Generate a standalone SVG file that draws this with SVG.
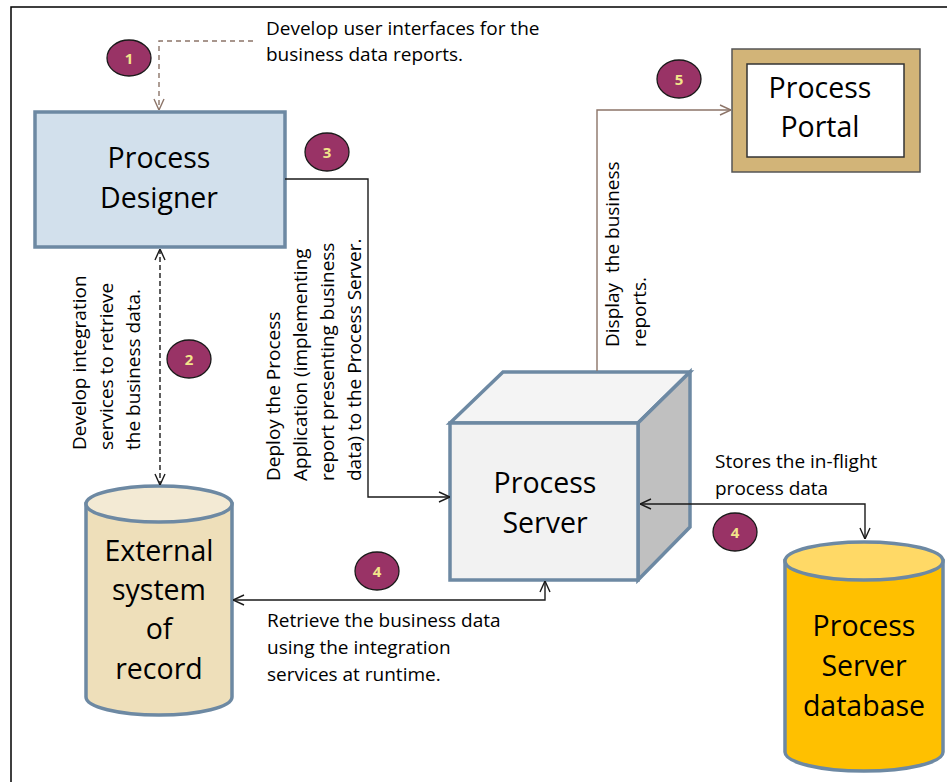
<svg xmlns="http://www.w3.org/2000/svg" width="947" height="782" viewBox="0 0 947 782">
<style>
.lbl{font-family:"Open Sans","Liberation Sans",sans-serif;font-size:19px;fill:#000}
.big{font-family:"Open Sans","Liberation Sans",sans-serif;font-size:28.5px;fill:#000;text-anchor:middle}
.badge ellipse{fill:#993366;stroke:#1a1a1a;stroke-width:1.3}
.badge text{font-family:"Open Sans","Liberation Sans",sans-serif;font-size:15px;font-weight:bold;fill:#f2e58a;text-anchor:middle}
.blue{stroke:#6d89a3;stroke-width:3.5}
.conn{fill:none;stroke:#1a1a1a;stroke-width:1.4}
.brown{fill:none;stroke:#8c7468;stroke-width:1.4}
</style>
<defs>
<marker id="ab" viewBox="0 0 12 12" refX="12" refY="6" markerWidth="12" markerHeight="12" markerUnits="userSpaceOnUse" orient="auto-start-reverse">
<path d="M1,1 L12,6 L1,11" fill="none" stroke="#1a1a1a" stroke-width="1.4"/>
</marker>
<marker id="abr" viewBox="0 0 12 12" refX="12" refY="6" markerWidth="12" markerHeight="12" markerUnits="userSpaceOnUse" orient="auto-start-reverse">
<path d="M1,1 L12,6 L1,11" fill="none" stroke="#8c7468" stroke-width="1.4"/>
</marker>
</defs>
<rect x="0" y="0" width="947" height="782" fill="#fff"/>
<path d="M11,782 V7 H947" fill="none" stroke="#000" stroke-width="1.5"/>

<g id="designer">
<rect x="35" y="112" width="250" height="135" fill="#d2e0ec" class="blue"/>
<text class="big" x="159" y="168">Process</text>
<text class="big" x="159" y="208">Designer</text>
</g>

<g id="portal">
<rect x="732" y="49" width="188" height="123" fill="#d2b478" stroke="#555" stroke-width="1.5"/>
<rect x="747" y="64" width="157" height="93" fill="#fff" stroke="#333" stroke-width="1.5"/>
<text class="big" x="820" y="98">Process</text>
<text class="big" x="820" y="137">Portal</text>
</g>

<g id="server">
<polygon points="450,423 503,372 690,372 638,423" fill="#f4f4f4" class="blue"/>
<polygon points="638,423 690,372 690,527 638,580" fill="#c0c0c0" class="blue"/>
<rect x="450" y="423" width="188" height="157" fill="#f2f2f2" class="blue"/>
<text class="big" x="545" y="493">Process</text>
<text class="big" x="545" y="533">Server</text>
</g>

<g id="external">
<path d="M86,504 V697 A73,18 0 0 0 232,697 V504 Z" fill="#eedfba" class="blue"/>
<ellipse cx="159" cy="504" rx="73" ry="18" fill="#f3ead4" class="blue"/>
<text class="big" x="159" y="561">External</text>
<text class="big" x="159" y="600">system</text>
<text class="big" x="159" y="639">of</text>
<text class="big" x="159" y="679">record</text>
</g>

<g id="database">
<path d="M785,561 V752 A79,19 0 0 0 943,752 V561 Z" fill="#ffc000" class="blue"/>
<ellipse cx="864" cy="561" rx="79" ry="19" fill="#ffd966" class="blue"/>
<text class="big" x="864" y="636">Process</text>
<text class="big" x="864" y="676">Server</text>
<text class="big" x="864" y="716">database</text>
</g>

<g id="connectors">
<path class="brown" d="M253,41 H159 V110" stroke-dasharray="5,4" marker-end="url(#abr)"/>
<path class="conn" d="M160,249 V485" stroke-dasharray="5,3" marker-start="url(#ab)" marker-end="url(#ab)"/>
<path class="conn" d="M285,179 H368 V497 H450" marker-end="url(#ab)"/>
<path class="conn" d="M233,600 H545 V581" marker-start="url(#ab)" marker-end="url(#ab)"/>
<path class="conn" d="M640,504 H865 V539" marker-start="url(#ab)" marker-end="url(#ab)"/>
<path class="brown" d="M597,371 V110 H731" marker-end="url(#abr)"/>
</g>

<g id="badges">
<g class="badge"><ellipse cx="129" cy="58" rx="22" ry="18"/><text x="129" y="63.5">1</text></g>
<g class="badge"><ellipse cx="189" cy="359" rx="22" ry="19"/><text x="189" y="364.5">2</text></g>
<g class="badge"><ellipse cx="327" cy="152" rx="22" ry="19"/><text x="327" y="157.5">3</text></g>
<g class="badge"><ellipse cx="377" cy="571" rx="22" ry="19"/><text x="377" y="576.5">4</text></g>
<g class="badge"><ellipse cx="735" cy="532" rx="22" ry="19"/><text x="735" y="537.5">4</text></g>
<g class="badge"><ellipse cx="679" cy="79" rx="22" ry="19"/><text x="679" y="84.5">5</text></g>
</g>

<g id="labels">
<text class="lbl" x="266" y="35">Develop user interfaces for the</text>
<text class="lbl" x="266" y="61">business data reports.</text>
<text class="lbl" transform="translate(86,450) rotate(-90)">Develop integration</text>
<text class="lbl" transform="translate(113,450) rotate(-90)">services to retrieve</text>
<text class="lbl" transform="translate(140,450) rotate(-90)">the business data.</text>
<text class="lbl" transform="translate(280,481) rotate(-90)">Deploy the Process</text>
<text class="lbl" transform="translate(307,481) rotate(-90)">Application (implementing</text>
<text class="lbl" transform="translate(334,481) rotate(-90)">report presenting business</text>
<text class="lbl" transform="translate(361,481) rotate(-90)">data) to the Process Server.</text>
<text class="lbl" transform="translate(619,347) rotate(-90)">Display &#160;the business</text>
<text class="lbl" transform="translate(646,347) rotate(-90)">reports.</text>
<text class="lbl" x="715" y="468">Stores the in-flight</text>
<text class="lbl" x="715" y="495">process data</text>
<text class="lbl" x="267" y="627">Retrieve the business data</text>
<text class="lbl" x="267" y="654">using the integration</text>
<text class="lbl" x="267" y="681">services at runtime.</text>
</g>
</svg>
